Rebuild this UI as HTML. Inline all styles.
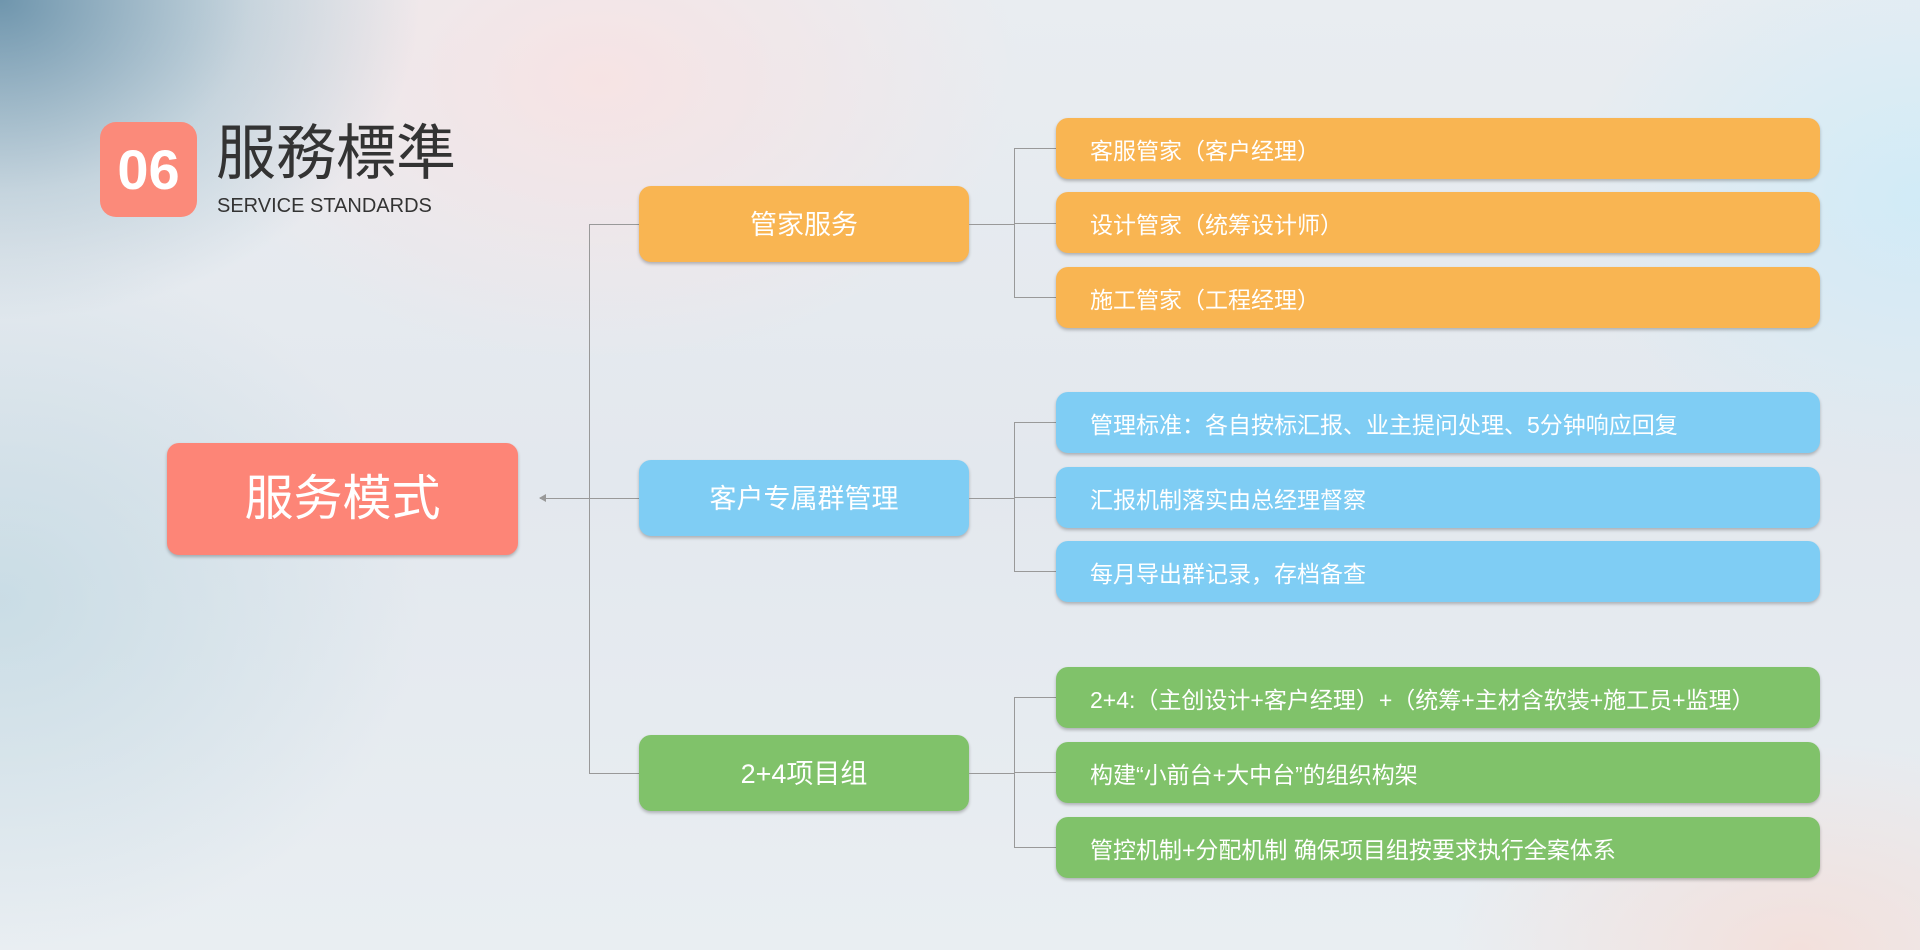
<!DOCTYPE html>
<html><head><meta charset="utf-8"><style>
*{margin:0;padding:0;box-sizing:border-box}
body{width:1920px;height:950px;overflow:hidden;position:relative;font-family:"Liberation Sans","Noto Sans CJK SC",sans-serif;
background:
radial-gradient(ellipse 420px 320px at 0px 0px,rgba(70,120,150,0.75),rgba(120,160,180,0.3) 60%,transparent 100%),
radial-gradient(ellipse 600px 400px at 600px 80px,rgba(250,225,225,0.8),transparent 70%),
radial-gradient(ellipse 500px 400px at 1920px 200px,rgba(200,235,250,0.7),transparent 70%),
radial-gradient(ellipse 500px 300px at 1800px 950px,rgba(250,215,205,0.6),transparent 70%),
radial-gradient(ellipse 600px 500px at 0px 600px,rgba(190,215,225,0.7),transparent 70%),
linear-gradient(180deg,#e9edf1,#e3e8ee 50%,#e9eef2);}
.a{position:absolute}
.badge{left:100px;top:122px;width:97px;height:95px;background:#fb8a7a;border-radius:16px;color:#fff;font-weight:bold;font-size:56px;text-align:center;line-height:95px}
.n{position:absolute;border-radius:12px;color:#fff;box-shadow:0 2px 3px rgba(0,0,0,0.25)}
.l2{left:639px;width:330px;height:76px;font-size:27px;text-align:center;line-height:78px}
.l3{left:1056px;width:764px;height:61px;font-size:23px;line-height:66px;padding-left:34px}
.o{background:#f9b552}.b{background:#7fcdf4}.g{background:#80c26a}
.h{position:absolute;height:1px;background:#999}
.v{position:absolute;width:1px;background:#999}
</style></head><body>
<div class="a badge">06</div>
<div class="a" style="left:216px;top:114px;font-size:60px;color:#333;line-height:80px">服務標準</div>
<div class="a" style="left:217px;top:195px;font-size:20px;color:#333">SERVICE STANDARDS</div>

<div class="n" style="left:167px;top:443px;width:351px;height:112px;background:#fd8577;font-size:49px;text-align:center;line-height:112px">服务模式</div>

<div class="h" style="left:540px;top:498px;width:99px"></div>
<div class="a" style="left:539px;top:494px;width:0;height:0;border-top:4px solid transparent;border-bottom:4px solid transparent;border-right:7px solid #999"></div>
<div class="v" style="left:589px;top:224px;height:550px"></div>
<div class="h" style="left:589px;top:224px;width:50px"></div>
<div class="h" style="left:589px;top:773px;width:50px"></div>

<div class="n l2 o" style="top:186px">管家服务</div>
<div class="n l2 b" style="top:460px">客户专属群管理</div>
<div class="n l2 g" style="top:735px">2+4项目组</div>

<div class="h" style="left:969px;top:224px;width:45px"></div>
<div class="h" style="left:969px;top:498px;width:45px"></div>
<div class="h" style="left:969px;top:773px;width:45px"></div>
<div class="v" style="left:1014px;top:148px;height:150px"></div>
<div class="v" style="left:1014px;top:422px;height:150px"></div>
<div class="v" style="left:1014px;top:697px;height:150px"></div>
<div class="h" style="left:1014px;top:148px;width:42px"></div>
<div class="h" style="left:1014px;top:223px;width:42px"></div>
<div class="h" style="left:1014px;top:297px;width:42px"></div>
<div class="h" style="left:1014px;top:422px;width:42px"></div>
<div class="h" style="left:1014px;top:497px;width:42px"></div>
<div class="h" style="left:1014px;top:571px;width:42px"></div>
<div class="h" style="left:1014px;top:697px;width:42px"></div>
<div class="h" style="left:1014px;top:772px;width:42px"></div>
<div class="h" style="left:1014px;top:847px;width:42px"></div>

<div class="n l3 o" style="top:118px">客服管家（客户经理）</div>
<div class="n l3 o" style="top:192px">设计管家（统筹设计师）</div>
<div class="n l3 o" style="top:267px">施工管家（工程经理）</div>
<div class="n l3 b" style="top:392px">管理标准：各自按标汇报、业主提问处理、5分钟响应回复</div>
<div class="n l3 b" style="top:467px">汇报机制落实由总经理督察</div>
<div class="n l3 b" style="top:541px">每月导出群记录，存档备查</div>
<div class="n l3 g" style="top:667px">2+4:（主创设计+客户经理）+（统筹+主材含软装+施工员+监理）</div>
<div class="n l3 g" style="top:742px">构建“小前台+大中台”的组织构架</div>
<div class="n l3 g" style="top:817px">管控机制+分配机制 确保项目组按要求执行全案体系</div>
</body></html>
